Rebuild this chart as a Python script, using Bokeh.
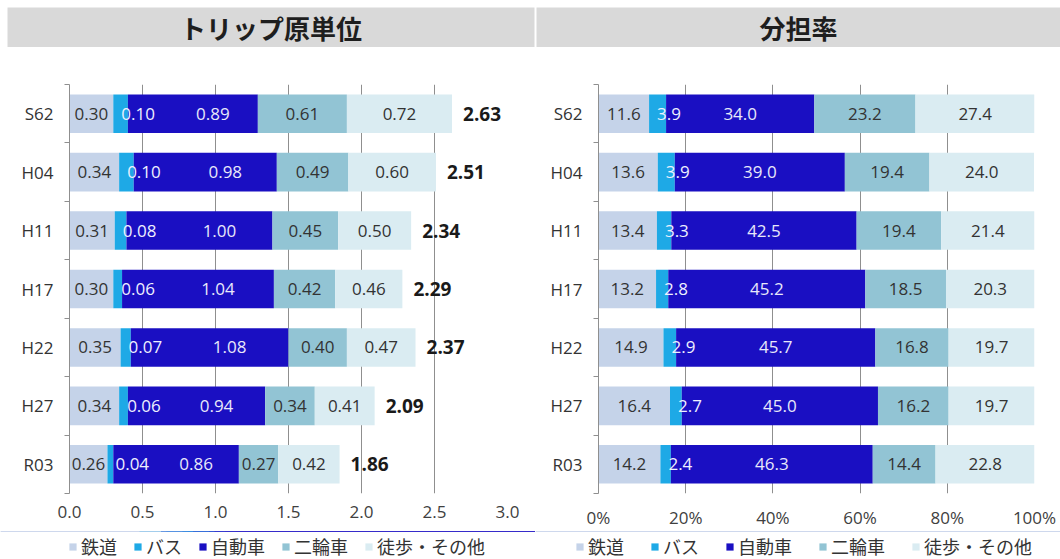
import pandas as pd
from bokeh.plotting import figure
from bokeh.models import (Range1d, LinearAxis, FixedTicker, Legend, LegendItem,
                          ColumnDataSource)
from bokeh.layouts import column, row
from bokeh.core.properties import value
from bokeh.embed import file_html
from bokeh.resources import INLINE

# ---------------- data ----------------
chart_titles = ["トリップ原単位", "分担率"]
categories = ["S62", "H04", "H11", "H17", "H22", "H27", "R03"]
modes = ["鉄道", "バス", "自動車", "二輪車", "徒歩・その他"]

trip_rail = [0.30, 0.34, 0.31, 0.30, 0.35, 0.34, 0.26]
trip_bus = [0.10, 0.10, 0.08, 0.06, 0.07, 0.06, 0.04]
trip_car = [0.89, 0.98, 1.00, 1.04, 1.08, 0.94, 0.86]
trip_bike = [0.61, 0.49, 0.45, 0.42, 0.40, 0.34, 0.27]
trip_walk = [0.72, 0.60, 0.50, 0.46, 0.47, 0.41, 0.42]
trip_total = [2.63, 2.51, 2.34, 2.29, 2.37, 2.09, 1.86]

share_rail = [11.6, 13.6, 13.4, 13.2, 14.9, 16.4, 14.2]
share_bus = [3.9, 3.9, 3.3, 2.8, 2.9, 2.7, 2.4]
share_car = [34.0, 39.0, 42.5, 45.2, 45.7, 45.0, 46.3]
share_bike = [23.2, 19.4, 19.4, 18.5, 16.8, 16.2, 14.4]
share_walk = [27.4, 24.0, 21.4, 20.3, 19.7, 19.7, 22.8]

trip_ticks = [0.0, 0.5, 1.0, 1.5, 2.0, 2.5, 3.0]
trip_tick_labels = ["0.0", "0.5", "1.0", "1.5", "2.0", "2.5", "3.0"]
share_ticks = [0, 20, 40, 60, 80, 100]
share_tick_labels = ["0%", "20%", "40%", "60%", "80%", "100%"]

# ---------------- styles ----------------
colors = ["#c5d3e9", "#1ea9e6", "#1a0fc2", "#92c4d4", "#daecf2"]
label_colors = ["#333333", "#eef0ff", "#e8e8fa", "#333333", "#333333"]
FONT = "Open Sans"
JP = "Noto Sans CJK JP"
GRID = "#8f8f8f"
H_BANNER = 47
H_LEGEND = 28
H_CHART = 559 - H_BANNER - H_LEGEND

n = len(categories)
cat_pos = [i + 0.5 for i in range(n)]          # band centres (S62 at top)
cat_bounds = [float(i) for i in range(n + 1)]  # band boundaries


def make_frame(series):
    data = {"cat": categories, "ypos": cat_pos}
    for m, s in zip(modes, series):
        data[m] = s
    return pd.DataFrame(data)


def banner(text, width, bl, br):
    b = figure(width=width, height=H_BANNER, x_range=Range1d(0, 1), y_range=Range1d(0, 1),
               output_backend="svg", toolbar_location=None,
               x_axis_location=None, y_axis_location=None,
               min_border_left=bl, min_border_right=br, min_border_top=7, min_border_bottom=0,
               background_fill_color="#d9d9d9", border_fill_color="white")
    b.outline_line_color = None
    b.grid.visible = False
    b.text(x=[0.5], y=[0.5], text=[text], text_align="center", text_baseline="middle",
           text_font=value(JP), text_font_size="26px", text_font_style="bold",
           text_color="#1e1e1e")
    return b


def legend_strip(series, width, x0, spacing):
    # legend-only strip; the stacked bars lie outside its visible y-range,
    # so only the legend (glyph squares + labels) is seen
    lf = figure(width=width, height=H_LEGEND, x_range=Range1d(0, 1),
                y_range=Range1d(-2, -1),
                output_backend="svg", toolbar_location=None,
                x_axis_location=None, y_axis_location=None,
                min_border_left=0, min_border_right=0, min_border_top=0, min_border_bottom=0)
    lf.outline_line_color = None
    lf.grid.visible = False
    src = ColumnDataSource(make_frame(series))
    rs = lf.hbar_stack(modes, y="ypos", height=0.66, color=colors, line_color=None, source=src)
    legend = Legend(items=[LegendItem(label=m, renderers=[r]) for m, r in zip(modes, rs)],
                    orientation="horizontal", location=(x0, 0),
                    border_line_color=None, background_fill_alpha=0,
                    padding=0, margin=0, spacing=spacing, label_standoff=4,
                    glyph_width=9, glyph_height=9, label_height=18,
                    label_text_font=JP, label_text_font_size="18px",
                    label_text_color="#333333")
    lf.add_layout(legend)
    return lf


def chart(series, totals, xmax, ticks, tick_labels, fmt, width, bl, br, car_offset):
    df = make_frame(series)
    src = ColumnDataSource(df)

    p = figure(width=width, height=H_CHART,
               y_range=Range1d(n, 0), x_range=Range1d(0, xmax),
               output_backend="svg", toolbar_location=None,
               y_axis_location=None,
               min_border_left=bl, min_border_right=br,
               min_border_top=37, min_border_bottom=36)
    p.outline_line_color = None
    p.background_fill_color = "white"

    # x axis
    p.xaxis.ticker = FixedTicker(ticks=ticks)
    p.xaxis.major_label_overrides = {t: l for t, l in zip(ticks, tick_labels)}
    p.xaxis.axis_line_color = None
    p.xaxis.major_tick_line_color = None
    p.xaxis.major_tick_out = 0
    p.xaxis.major_tick_in = 0
    p.xaxis.minor_tick_line_color = None
    p.xaxis.major_label_standoff = 12
    p.xaxis.major_label_text_font = FONT
    p.xaxis.major_label_text_font_size = "17px"
    p.xaxis.major_label_text_color = "#404040"
    p.xgrid.grid_line_color = GRID
    p.xgrid.grid_line_width = 1

    # only the top border as horizontal line
    p.ygrid.ticker = FixedTicker(ticks=[0])
    p.ygrid.grid_line_color = GRID
    p.ygrid.grid_line_width = 1

    # boundary ticks + axis line on the left
    tick_axis = LinearAxis(ticker=FixedTicker(ticks=cat_bounds),
                           major_tick_in=0, major_tick_out=5,
                           major_tick_line_color=GRID, minor_tick_line_color=None,
                           axis_line_color=GRID,
                           major_label_overrides={b: "" for b in cat_bounds},
                           major_label_text_font_size="1px", major_label_standoff=0)
    p.add_layout(tick_axis, "left")
    cat_axis = LinearAxis(ticker=FixedTicker(ticks=cat_pos),
                          major_label_overrides={y: c for y, c in zip(cat_pos, categories)},
                          major_tick_line_color=None, axis_line_color=None,
                          minor_tick_line_color=None,
                          major_tick_out=0, major_tick_in=0,
                          major_label_standoff=11,
                          major_label_text_font=FONT,
                          major_label_text_font_size="17px",
                          major_label_text_color="#333333")
    p.add_layout(cat_axis, "left")

    p.hbar_stack(modes, y="ypos", height=0.66, color=colors, line_color=None, source=src)

    # segment labels
    left = [0.0] * n
    for k, m in enumerate(modes):
        vals = df[m].tolist()
        starts = left[:]
        ends = [a + v for a, v in zip(starts, vals)]
        if k == 1:
            xs, align, off = starts, "left", 8
        else:
            xs, align, off = [(a + b) / 2 for a, b in zip(starts, ends)], "center", 0
            if k == 2:
                off = car_offset
        lsrc = ColumnDataSource(dict(x=xs, y=cat_pos, t=[fmt.format(v) for v in vals]))
        p.text(x="x", y="y", text="t", source=lsrc, text_align=align, text_baseline="middle",
               x_offset=off, text_font=value(FONT), text_font_size="17px",
               text_color=label_colors[k])
        left = ends

    if totals is not None:
        tsrc = ColumnDataSource(dict(x=left, y=cat_pos, t=["{:.2f}".format(v) for v in totals]))
        p.text(x="x", y="y", text="t", source=tsrc, text_align="left", text_baseline="middle",
               x_offset=11, text_font=value(FONT), text_font_size="19px",
               text_font_style="bold", text_color="#1a1a1a")
    return p


trip_series = [trip_rail, trip_bus, trip_car, trip_bike, trip_walk]
share_series = [share_rail, share_bus, share_car, share_bike, share_walk]

c1 = chart(trip_series, trip_total, 3.0, trip_ticks, trip_tick_labels, "{:.2f}",
           535, 69, 28, 20)
c2 = chart(share_series, None, 100, share_ticks, share_tick_labels, "{:.1f}",
           525, 63, 26, 0)
b1 = banner(chart_titles[0], 535, 7, 1)
b2 = banner(chart_titles[1], 525, 1, 0)
l1 = legend_strip(trip_series, 535, 68, 16)
l2 = legend_strip(share_series, 525, 40, 26)

layout = column(row(b1, b2), row(c1, c2), row(l1, l2))
open("out.html", "w").write(file_html(layout, INLINE))
